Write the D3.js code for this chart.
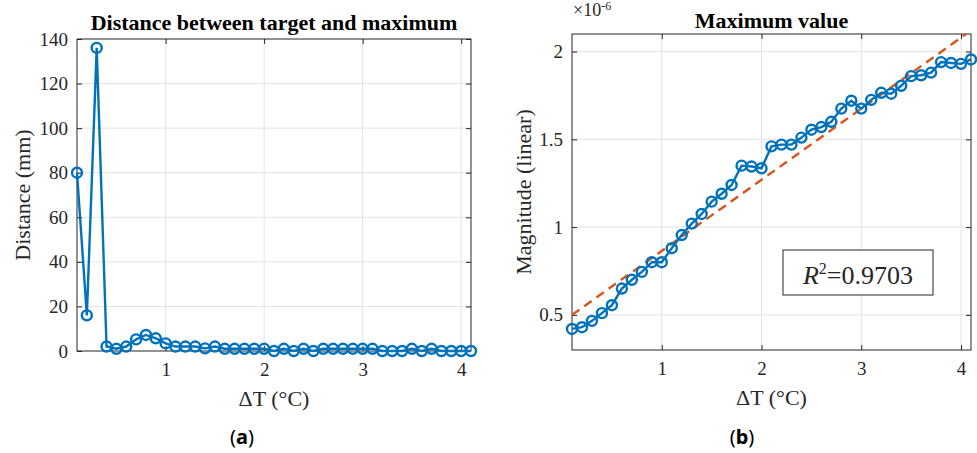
<!DOCTYPE html>
<html lang="en">
<head>
<meta charset="utf-8">
<title>Distance between target and maximum / Maximum value</title>
<script src="https://d3js.org/d3.v7.min.js"></script>
<style>
  body { margin: 0; background: #fff; }
  svg text { font-family: "Liberation Serif", "Times New Roman", serif; fill: #262626; }
  .title { font-weight: bold; font-size: 22px; fill: #000; }
  .tick text { font-size: 19px; }
  .label { font-size: 22px; }
  svg text.caption { font-family: "Noto Sans", "Open Sans", sans-serif; font-size: 20px; fill: #000; }
  .grid line { stroke: #e3e3e3; stroke-width: 1; }
</style>
</head>
<body>
<script>
// delta T in degrees C
var dT = [0.1, 0.2, 0.3, 0.4, 0.5, 0.6, 0.7, 0.8, 0.9, 1.0,
          1.1, 1.2, 1.3, 1.4, 1.5, 1.6, 1.7, 1.8, 1.9, 2.0,
          2.1, 2.2, 2.3, 2.4, 2.5, 2.6, 2.7, 2.8, 2.9, 3.0,
          3.1, 3.2, 3.3, 3.4, 3.5, 3.6, 3.7, 3.8, 3.9, 4.0, 4.1];

// (a) distance between target and maximum, mm
var distance = [80, 16, 136, 2, 1, 2, 5.2, 7.2, 5.7, 3.4,
                2, 2, 2, 1.2, 2, 1, 1, 1, 1, 1,
                0, 1, 0, 1, 0, 1, 1, 1, 1, 1,
                1, 0, 0, 0, 1, 0, 1, 0, 0, 0, 0];

// (b) maximum magnitude, x 1e-6
var magnitude = [0.42, 0.43, 0.466, 0.51, 0.555, 0.65, 0.70, 0.745, 0.80, 0.80,
                 0.88, 0.955, 1.02, 1.075, 1.145, 1.19, 1.24, 1.35, 1.345, 1.335,
                 1.46, 1.47, 1.47, 1.51, 1.555, 1.57, 1.60, 1.675, 1.72, 1.675,
                 1.725, 1.765, 1.76, 1.805, 1.86, 1.865, 1.88, 1.94, 1.935, 1.93, 1.955];

// linear fit end points
var fitX = [0.1, 4.1];
var fitY = [0.50, 2.12];
var r2Value = "0.9703";

var dTTicks = [1, 2, 3, 4];
var distTicks = [0, 20, 40, 60, 80, 100, 120, 140];
var magTicks = [0.5, 1, 1.5, 2];

var width = 977, height = 453;
var blue = "#0072BD", orange = "#D95319";

var svg = d3.select("body").append("svg")
    .attr("width", width)
    .attr("height", height);

var defs = svg.append("defs");

function panel(p) {
    var x = d3.scaleLinear().domain([0.1, 4.1]).range([p.left, p.right]);
    var y = d3.scaleLinear().domain(p.yDomain).range([p.bottom, p.top]);
    var g = svg.append("g");

    // grid
    g.append("g").attr("class", "grid").selectAll("line")
        .data(dTTicks).enter().append("line")
        .attr("x1", x).attr("x2", x).attr("y1", p.top).attr("y2", p.bottom);
    g.append("g").attr("class", "grid").selectAll("line")
        .data(p.yTicks.filter(function(v) { return v > p.yDomain[0] && v < p.yDomain[1]; }))
        .enter().append("line")
        .attr("y1", y).attr("y2", y).attr("x1", p.left).attr("x2", p.right);

    // axes, ticks inward on all four sides
    g.append("g").attr("transform", "translate(0," + p.bottom + ")")
        .call(d3.axisBottom(x).tickValues(dTTicks).tickSize(-5).tickPadding(12).tickFormat(d3.format("d")));
    g.append("g").attr("transform", "translate(0," + p.top + ")")
        .call(d3.axisTop(x).tickValues(dTTicks).tickSize(-5).tickFormat(""));
    g.append("g").attr("transform", "translate(" + p.left + ",0)")
        .call(d3.axisLeft(y).tickValues(p.yTicks).tickSize(-5).tickPadding(9).tickFormat(p.fmt));
    g.append("g").attr("transform", "translate(" + p.right + ",0)")
        .call(d3.axisRight(y).tickValues(p.yTicks).tickSize(-5).tickFormat(""));
    g.selectAll(".domain").remove();
    g.selectAll(".tick line").attr("stroke", "#262626");
    g.selectAll(".tick text").attr("fill", "#262626").attr("font-family", null).attr("font-size", null);

    g.append("rect")
        .attr("x", p.left).attr("y", p.top)
        .attr("width", p.right - p.left).attr("height", p.bottom - p.top)
        .attr("fill", "none").attr("stroke", "#262626").attr("stroke-width", 1);

    // title and labels
    var cx = (p.left + p.right) / 2;
    g.append("text").attr("class", "title")
        .attr("x", cx).attr("y", p.titleY).attr("text-anchor", "middle")
        .text(p.title);
    g.append("text").attr("class", "label")
        .attr("x", cx).attr("y", p.bottom + 55).attr("text-anchor", "middle")
        .text("\u0394T (\u00B0C)");
    g.append("text").attr("class", "label")
        .attr("transform", "translate(" + p.yLabelX + "," + ((p.top + p.bottom) / 2) + ") rotate(-90)")
        .attr("text-anchor", "middle").attr("dy", "0.35em")
        .text(p.yLabel);
    g.append("text").attr("class", "caption")
        .attr("x", p.captionX).attr("y", 444).attr("text-anchor", "middle")
        .html("(<tspan font-weight='bold'>" + p.caption + "</tspan>)");

    // fit line, clipped to the axes box
    if (p.fit) {
        defs.append("clipPath").attr("id", "clip-" + p.caption)
            .append("rect")
            .attr("x", p.left).attr("y", p.top)
            .attr("width", p.right - p.left).attr("height", p.bottom - p.top);
        g.append("path")
            .datum(d3.zip(fitX, fitY))
            .attr("clip-path", "url(#clip-" + p.caption + ")")
            .attr("fill", "none").attr("stroke", orange).attr("stroke-width", 2.4)
            .attr("stroke-dasharray", "9,6")
            .attr("d", d3.line().x(function(d) { return x(d[0]); }).y(function(d) { return y(d[1]); }));
    }

    // series
    var pts = d3.zip(dT, p.values);
    g.append("path").datum(pts)
        .attr("fill", "none").attr("stroke", blue).attr("stroke-width", 2.4)
        .attr("d", d3.line().x(function(d) { return x(d[0]); }).y(function(d) { return y(d[1]); }));
    g.selectAll("circle").data(pts).enter().append("circle")
        .attr("cx", function(d) { return x(d[0]); })
        .attr("cy", function(d) { return y(d[1]); })
        .attr("r", 5)
        .attr("fill", "none").attr("stroke", blue).attr("stroke-width", 2.4);

    return { x: x, y: y, g: g };
}

panel({
    left: 77, right: 471, top: 39, bottom: 351,
    yDomain: [0, 140], yTicks: distTicks, fmt: d3.format("d"),
    title: "Distance between target and maximum", titleY: 30,
    yLabel: "Distance (mm)", yLabelX: 22,
    values: distance, caption: "a", captionX: 242
});

var b = panel({
    left: 572, right: 971, top: 34, bottom: 350,
    yDomain: [0.3, 2.1], yTicks: magTicks, fmt: function(v) { return String(v); },
    title: "Maximum value", titleY: 28,
    yLabel: "Magnitude (linear)", yLabelX: 523,
    values: magnitude, caption: "b", captionX: 742, fit: true
});

// exponent label
var ex = b.g.append("text").attr("x", 573).attr("y", 16).style("font-size", "18px");
ex.append("tspan").text("\u00D710");
ex.append("tspan").attr("dy", -6).style("font-size", "12px").text("-6");

// R^2 box
b.g.append("rect")
    .attr("x", 783).attr("y", 250).attr("width", 150).attr("height", 45)
    .attr("fill", "#fff").attr("stroke", "#262626").attr("stroke-width", 1);
var r2 = b.g.append("text").attr("x", 858).attr("y", 284)
    .attr("text-anchor", "middle").style("font-size", "26px").attr("fill", "#000");
r2.append("tspan").attr("font-style", "italic").text("R");
r2.append("tspan").attr("dy", -10).style("font-size", "16px").text("2");
r2.append("tspan").attr("dy", 10).text("=" + r2Value);
</script>
</body>
</html>
